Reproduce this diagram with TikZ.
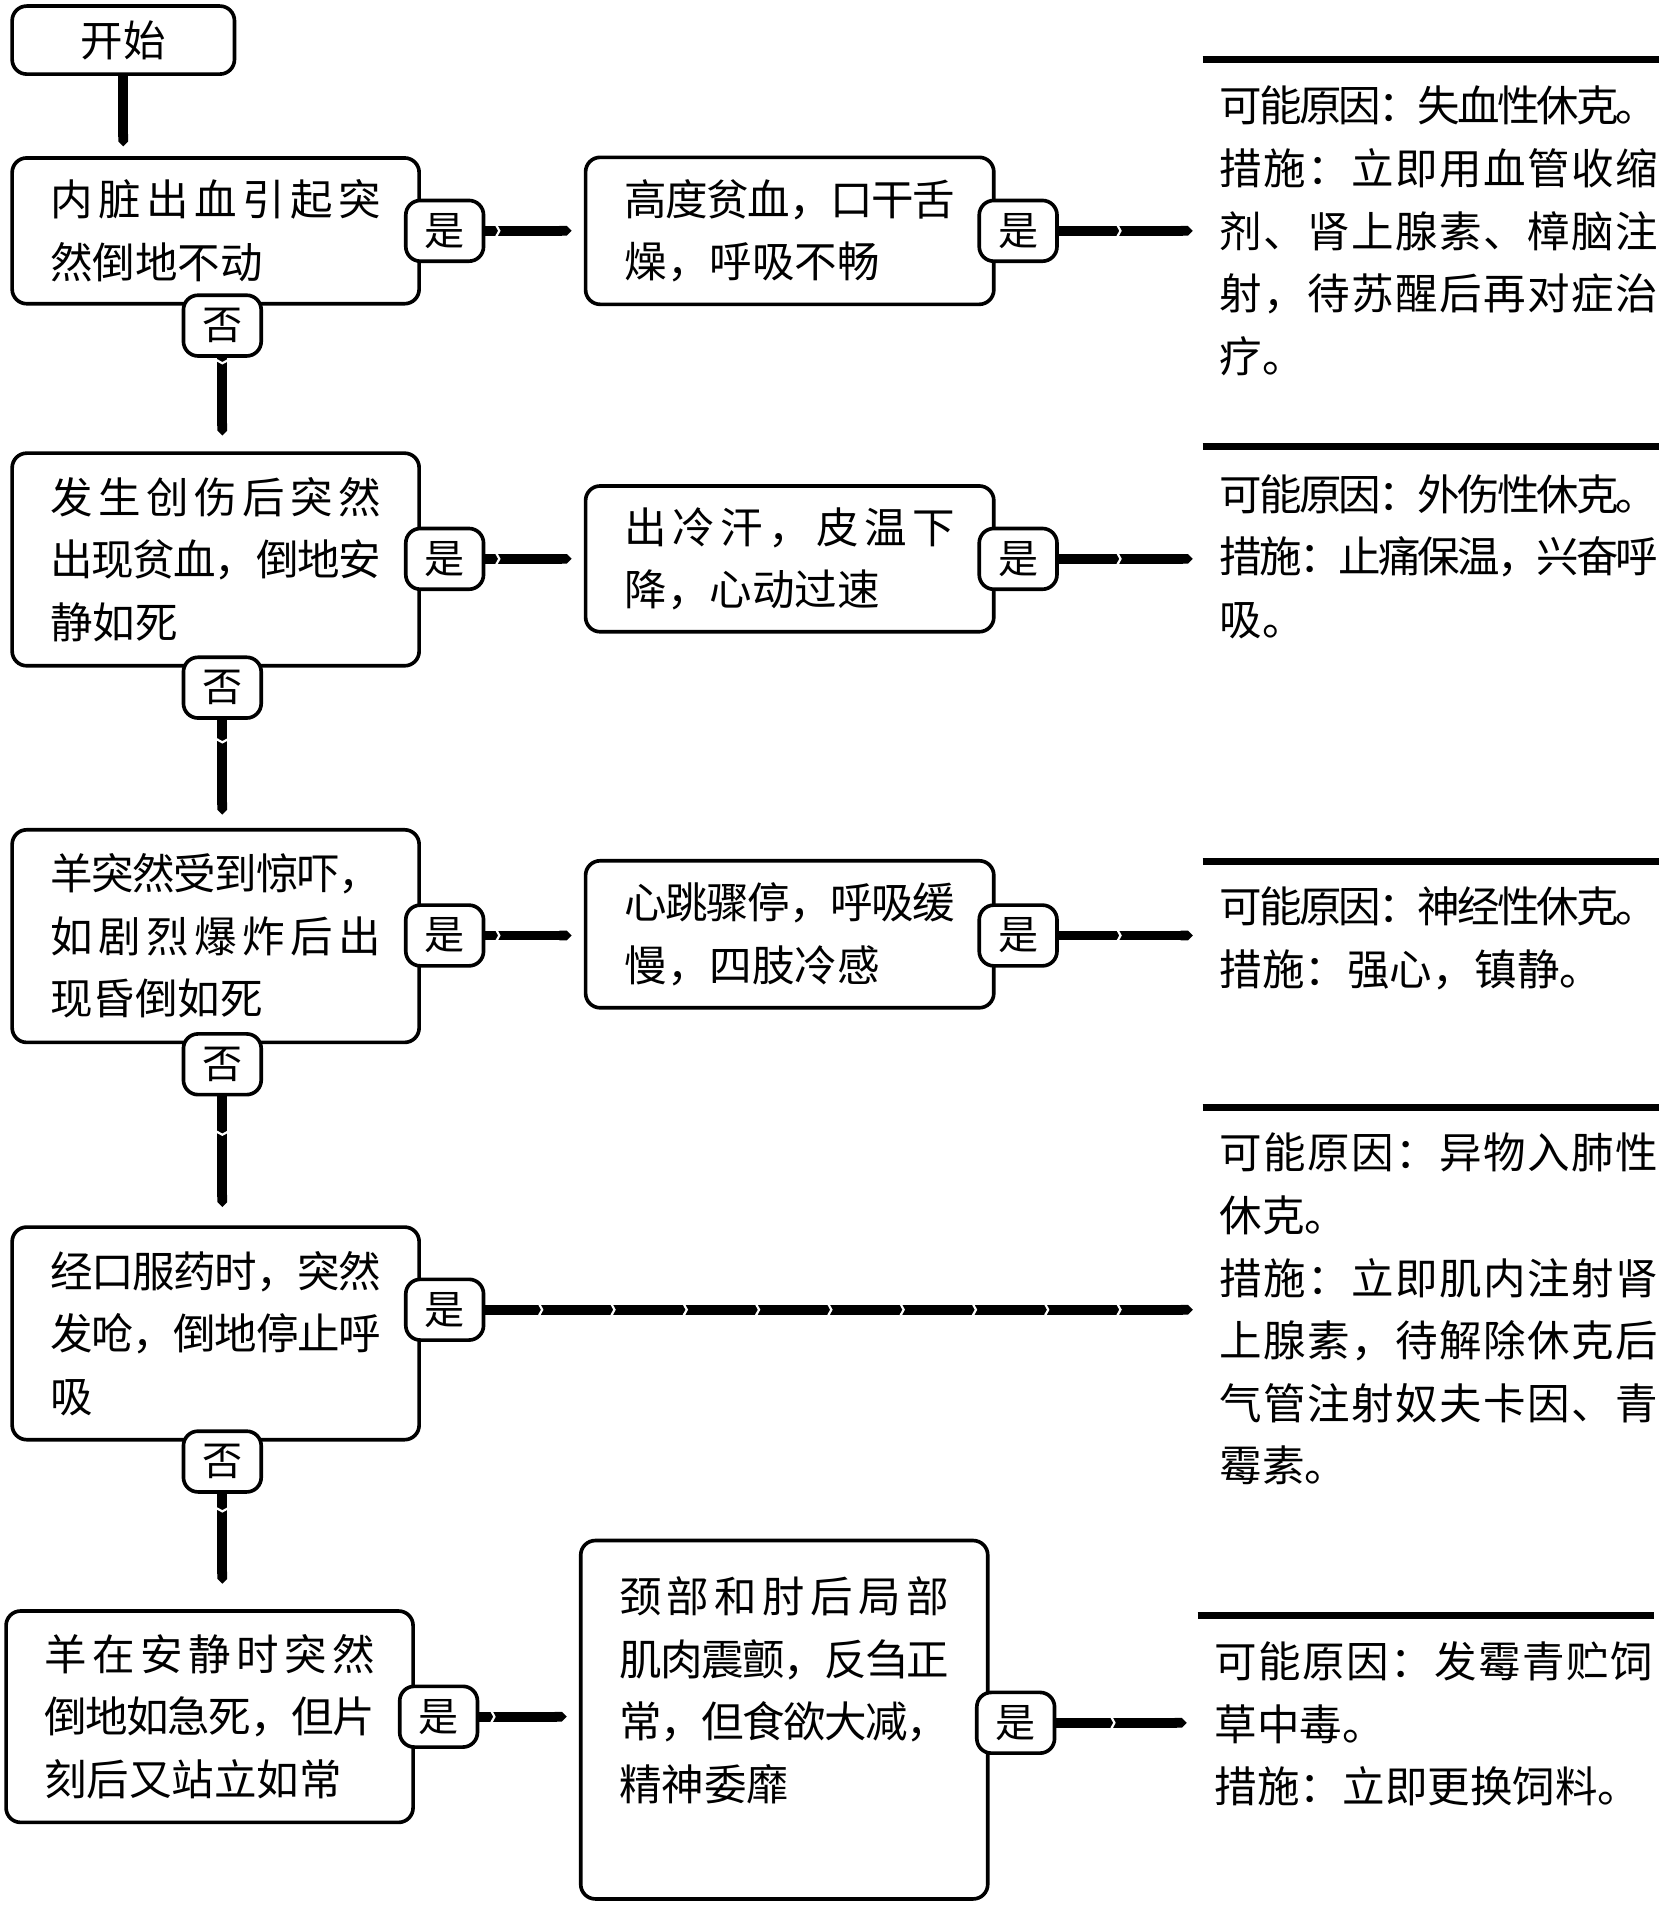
\documentclass[tikz,border=0pt]{standalone}
\usepackage{fontspec}
\setmainfont{Noto Sans CJK SC}
\usetikzlibrary{arrows.meta,decorations.markings}
% justified line: spread characters to the given width
\def\jend{}
\def\jsp#1#2\jend{#1\ifx\jend#2\jend\else\hskip 0pt plus 1fil minus 4pt\jsp#2\jend\fi}
\newcommand\jl[2][272pt]{\makebox[#1][s]{\jsp#2\jend}}
\newcommand\jr[1]{\jl[361pt]{#1}}
\tikzset{
  x=1pt, y=-1pt,
  txt/.style={font=\fontsize{35pt}{51.5pt}\selectfont},
  box/.style={txt, draw, line width=3pt, rounded corners=12pt, fill=white,
    text width=272pt, align=left, minimum width=335pt, inner ysep=0pt},
  startbox/.style={txt, draw, line width=3pt, rounded corners=12pt, fill=white,
    minimum width=183pt, minimum height=56pt, inner sep=0pt},
  lab/.style={font=\fontsize{33pt}{33pt}\selectfont, draw, line width=3pt,
    rounded corners=12pt, fill=white, minimum width=64pt, minimum height=50pt, inner sep=0pt},
  result/.style={txt, text width=361pt, align=left, inner sep=0pt},
  toprule/.style={line width=6pt},
  conn/.style={line width=8pt, {Triangle Cap}-,
    postaction={decorate, decoration={markings,
      mark=between positions 59.5pt and 1 step 59.5pt with
        {\draw[white, line width=1.8pt] (3pt,5.5pt) -- (0pt,0pt) -- (3pt,-5.5pt);}}}},
}
\begin{document}
\begin{tikzpicture}
\useasboundingbox (0,0) rectangle (1369,1568);
\fill[white] (0,0) rectangle (1369,1568);

% start
\node[startbox] (start) at (101.5,33) {开始};

% ---------- row 1
\node[box, minimum height=120pt] (b1) at (177.5,190) {\jl{内脏出血引起突}\\然倒地不动};
\node[box, minimum width=336pt, minimum height=121pt] (m1) at (650,190) {\jl{高度贫血，口干舌}\\燥，呼吸不畅};
\node[result, minimum height=282pt] (r1) at (1184.5,190)
  {\jr{可能原因：失血性休克。}\\\jr{措施：立即用血管收缩}\\\jr{剂、肾上腺素、樟脑注}\\\jr{射，待苏醒后再对症治}\\疗。};
\node[lab] (y1) at (366,190) {是};
\node[lab] (y1b) at (838,190) {是};
\node[lab] (n1) at (183,268) {否};

% ---------- row 2
\node[box, minimum height=175pt] (b2) at (177.5,460.5) {\jl{发生创伤后突然}\\\jl{出现贫血，倒地安}\\静如死};
\node[box, minimum width=336pt, minimum height=120pt] (m2) at (650,460) {\jl{出冷汗，皮温下}\\降，心动过速};
\node[result, minimum height=180pt] (r2) at (1184.5,458)
  {\jr{可能原因：外伤性休克。}\\\jr{措施：止痛保温，兴奋呼}\\吸。};
\node[lab] (y2) at (366,460) {是};
\node[lab] (y2b) at (838,460) {是};
\node[lab] (n2) at (183,566) {否};

% ---------- row 3
\node[box, minimum height=175pt] (b3) at (177.5,770.5) {\jl{羊突然受到惊吓，}\\\jl{如剧烈爆炸后出}\\现昏倒如死};
\node[box, minimum width=336pt, minimum height=121pt] (m3) at (650,769) {\jl{心跳骤停，呼吸缓}\\慢，四肢冷感};
\node[result, minimum height=127pt] (r3) at (1184.5,772.5)
  {\jr{可能原因：神经性休克。}\\措施：强心，镇静。};
\node[lab] (y3) at (366,770) {是};
\node[lab] (y3b) at (838,770) {是};
\node[lab] (n3) at (183,876) {否};

% ---------- row 4
\node[box, minimum height=175pt] (b4) at (177.5,1097.5) {\jl{经口服药时，突然}\\\jl{发呛，倒地停止呼}\\吸};
\node[result, minimum height=331pt] (r4) at (1184.5,1077.5)
  {\jr{可能原因：异物入肺性}\\休克。\\\jr{措施：立即肌内注射肾}\\\jr{上腺素，待解除休克后}\\\jr{气管注射奴夫卡因、青}\\霉素。};
\node[lab] (y4) at (366,1078) {是};
\node[lab] (n4) at (183,1203) {否};

% ---------- row 5
\node[box, minimum height=174pt] (b5) at (172.5,1413) {\jl{羊在安静时突然}\\\jl{倒地如急死，但片}\\刻后又站立如常};
\node[box, minimum width=335pt, minimum height=295pt] (m5) at (645.5,1415.5)
  {\jl{颈部和肘后局部}\\\jl{肌肉震颤，反刍正}\\\jl{常，但食欲大减，}\\精神委靡\\\mbox{}};
\node[result, minimum height=178pt] (r5) at (1180.5,1419)
  {\jr{可能原因：发霉青贮饲}\\草中毒。\\措施：立即更换饲料。};
\node[lab] (y5) at (361,1413) {是};
\node[lab] (y5b) at (836,1418) {是};

% ---------- top rules of the result blocks
\foreach \r in {r1,r2,r3,r4,r5}
  \draw[toprule] ([xshift=-14pt]\r.north west) -- (\r.north east);

% ---------- vertical connectors (drawn from target back to source)
\draw[conn] ([yshift=8pt]b1.north -| start.south) -- (start.south);
\draw[conn] ([yshift=13pt]b2.north -| n1.south) -- (n1.south);
\draw[conn] ([yshift=11pt]b3.north -| n2.south) -- (n2.south);
\draw[conn] ([yshift=15pt]b4.north -| n3.south) -- (n3.south);
\draw[conn] ([yshift=21pt]b5.north -| n4.south) -- (n4.south);

% ---------- horizontal connectors
\draw[conn] ([xshift=-10pt]m1.west |- y1.east) -- (y1.east);
\draw[conn] ([xshift=-22pt]r1.west |- y1b.east) -- (y1b.east);
\draw[conn] ([xshift=-10pt]m2.west |- y2.east) -- (y2.east);
\draw[conn] ([xshift=-22pt]r2.west |- y2b.east) -- (y2b.east);
\draw[conn] ([xshift=-10pt]m3.west |- y3.east) -- (y3.east);
\draw[conn] ([xshift=-22pt]r3.west |- y3b.east) -- (y3b.east);
\draw[conn] ([xshift=-22pt]r4.west |- y4.east) -- (y4.east);
\draw[conn] ([xshift=-10pt]m5.west |- y5.east) -- (y5.east);
\draw[conn] ([xshift=-23pt]r5.west |- y5b.east) -- (y5b.east);
\end{tikzpicture}
\end{document}
